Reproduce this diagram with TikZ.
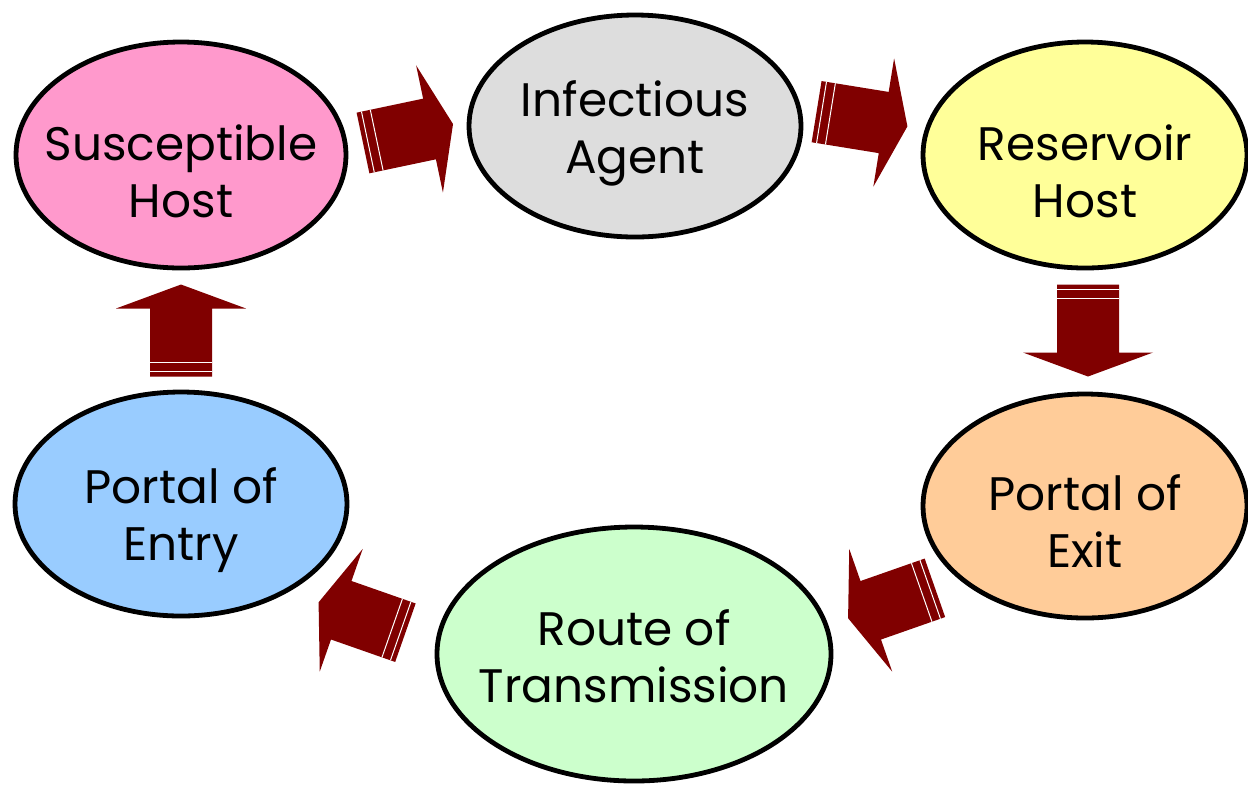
\documentclass[tikz,border=0pt]{standalone}
\usepackage{fontspec}
\setmainfont{Poppins}
\usepackage{tikz}
\usetikzlibrary{shapes,calc}
\definecolor{hostpink}{HTML}{FF99CC}
\definecolor{agentgray}{HTML}{DDDDDD}
\definecolor{resyellow}{HTML}{FFFF99}
\definecolor{exitorange}{HTML}{FFCC99}
\definecolor{routegreen}{HTML}{CCFFCC}
\definecolor{entryblue}{HTML}{99CCFF}
\definecolor{maroonarrow}{HTML}{800000}
\tikzstyle{bubble} = [ellipse, draw=black, line width=2.4pt, inner sep=0pt]
\tikzstyle{txt} = [align=center, font=\fontsize{23.5}{28.5}\selectfont]
\tikzset{stripearrow/.pic={
    \fill[maroonarrow] (-46,-31) -- (22,-31) -- (22,-65) -- (46,0) -- (22,65) -- (22,31) -- (-46,31) -- cycle;
    \draw[white, line width=0.5pt] (-41,-31) -- (-41,31) (-32,-31) -- (-32,31);
}}

\begin{document}
\begin{tikzpicture}[x=0.5pt, y=-0.5pt]
        \useasboundingbox (0,0) rectangle (1248,784);

        \node (sus) [bubble, fill=hostpink, minimum width=165pt, minimum height=113pt, label={[txt,yshift=-8pt]center:Susceptible\\Host}] at (181,155) {};
        \node (inf) [bubble, fill=agentgray, minimum width=166pt, minimum height=111pt, label={[txt,yshift=-3.5pt]center:Infectious\\Agent}] at (635,126) {};
        \node (res) [bubble, fill=resyellow, minimum width=162pt, minimum height=113pt, label={[txt,yshift=-8pt]center:Reservoir\\Host}] at (1085,155) {};
        \node (exit) [bubble, fill=exitorange, minimum width=162pt, minimum height=112pt, label={[txt,yshift=-7.5pt]center:Portal of\\Exit}] at (1085,506) {};
        \node (route) [bubble, fill=routegreen, minimum width=197pt, minimum height=127pt, label={[txt,yshift=-1pt]center:Route of\\Transmission}] at (634,654) {};
        \node (entry) [bubble, fill=entryblue, minimum width=166pt, minimum height=112pt, label={[txt,yshift=-8pt]center:Portal of\\Entry}] at (181,504) {};

        % block arrows round the chain
        \pic[rotate=11.9] at ($(sus)!.5!(inf)+(0,-7)$) {stripearrow};
        \pic[rotate=-9.2] at ($(inf)!.5!(res)+(2,-21.5)$) {stripearrow};
        \pic[rotate=-90] at ($(res)!.5!(exit)+(3,0)$) {stripearrow};
        \pic[rotate=-160.7] at ($(exit)!.5!(route)+(32,23)$) {stripearrow};
        \pic[rotate=160.7] at ($(route)!.5!(entry)+(-45.5,38.5)$) {stripearrow};
        \pic[rotate=90] at ($(entry)!.5!(sus)+(0,1)$) {stripearrow};
    \end{tikzpicture}
\end{document}
